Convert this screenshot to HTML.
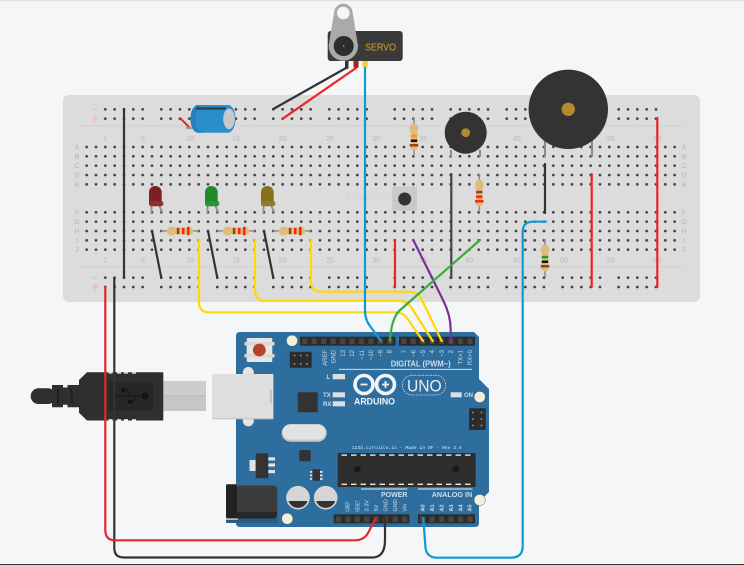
<!DOCTYPE html>
<html><head><meta charset="utf-8"><style>
html,body{margin:0;padding:0;background:#f4f6f8;width:744px;height:565px;overflow:hidden}
svg{display:block;font-family:"Liberation Sans",sans-serif}
.n{font-size:7px;fill:#b5b5b5;text-anchor:middle}
.p{font-size:6px;fill:#cfdde8;text-anchor:end}
.q{font-size:5.5px;fill:#cfdde8;text-anchor:start}
.w{fill:none;stroke-width:2.2;stroke-linecap:round;stroke-linejoin:round}
</style></head><body>
<svg width="744" height="565" viewBox="0 0 744 565" xmlns="http://www.w3.org/2000/svg">
<defs>
<pattern id="d" x="82" y="142.33" width="9.333" height="9.333" patternUnits="userSpaceOnUse"><circle cx="4.667" cy="4.667" r="1.35" fill="#3c3c3c"/></pattern>
<pattern id="r" x="100.63" y="104.67" width="9.333" height="9.333" patternUnits="userSpaceOnUse"><circle cx="4.667" cy="4.667" r="1.35" fill="#3c3c3c"/></pattern>
<pattern id="r2" x="390" y="104.67" width="9.333" height="9.333" patternUnits="userSpaceOnUse"><circle cx="4.667" cy="4.667" r="1.35" fill="#3c3c3c"/></pattern>
<pattern id="rb" x="100.63" y="273" width="9.333" height="9.333" patternUnits="userSpaceOnUse"><circle cx="4.667" cy="4.667" r="1.35" fill="#3c3c3c"/></pattern>
<pattern id="rb2" x="390" y="273" width="9.333" height="9.333" patternUnits="userSpaceOnUse"><circle cx="4.667" cy="4.667" r="1.35" fill="#3c3c3c"/></pattern>
<pattern id="h" x="300" y="336" width="9.47" height="10" patternUnits="userSpaceOnUse"><rect width="9.47" height="10" fill="#2c2c2c"/><rect x="2.2" y="2.5" width="5" height="5.5" fill="#474747"/></pattern>
<pattern id="h2" x="399" y="336" width="9.47" height="10" patternUnits="userSpaceOnUse"><rect width="9.47" height="10" fill="#2c2c2c"/><rect x="2.2" y="2.5" width="5" height="5.5" fill="#474747"/></pattern>
<pattern id="h3" x="333.7" y="514" width="9.47" height="10" patternUnits="userSpaceOnUse"><rect width="9.47" height="10" fill="#2c2c2c"/><rect x="2.2" y="2.5" width="5" height="5.5" fill="#474747"/></pattern>
<pattern id="h4" x="418" y="514" width="9.47" height="10" patternUnits="userSpaceOnUse"><rect width="9.47" height="10" fill="#2c2c2c"/><rect x="2.2" y="2.5" width="5" height="5.5" fill="#474747"/></pattern>
<pattern id="ic" x="340" y="453" width="9.5" height="34" patternUnits="userSpaceOnUse"><rect x="1.5" y="1.4" width="5.5" height="1.4" fill="#e8e8e8"/><rect x="1.5" y="30.6" width="5.5" height="1.4" fill="#e8e8e8"/></pattern>
<g id="res">
<line x1="-19" y1="0" x2="19" y2="0" stroke="#8e8e8e" stroke-width="1.6"/>
<path d="M-13.5,0 C-13,-3.5 -10,-4.6 -7,-4.2 L-5,-3.2 L5,-3.2 L8,-4.2 C11,-4.6 13,-2.5 13.5,0 C13,2.5 11,4.6 8,4.2 L5,3.2 L-5,3.2 L-7,4.2 C-10,4.6 -13,3.5 -13.5,0Z" fill="#e0bb7c"/>
</g>
</defs>
<rect x="0" y="0" width="744" height="1.3" fill="#dfe1e3"/>
<!-- breadboard -->
<rect x="63" y="95" width="637" height="207" rx="6" fill="#dcdcdc"/>
<line x1="80" y1="126" x2="684" y2="126" stroke="#d0d0d0"/>
<line x1="80" y1="266.7" x2="684" y2="266.7" stroke="#d0d0d0"/>
<rect x="82" y="142.33" width="598.6" height="46.67" fill="url(#d)"/>
<rect x="82" y="207.67" width="598.6" height="46.67" fill="url(#d)"/>
<g>
<rect x="100.63" y="104.67" width="46.67" height="18.67" fill="url(#r)"/>
<rect x="156.63" y="104.67" width="46.67" height="18.67" fill="url(#r)"/>
<rect x="212.63" y="104.67" width="46.67" height="18.67" fill="url(#r)"/>
<rect x="268.63" y="104.67" width="46.67" height="18.67" fill="url(#r)"/>
<rect x="324.63" y="104.67" width="46.67" height="18.67" fill="url(#r)"/>
<rect x="390" y="104.67" width="46.67" height="18.67" fill="url(#r2)"/>
<rect x="446" y="104.67" width="46.67" height="18.67" fill="url(#r2)"/>
<rect x="502" y="104.67" width="46.67" height="18.67" fill="url(#r2)"/>
<rect x="558" y="104.67" width="46.67" height="18.67" fill="url(#r2)"/>
<rect x="614" y="104.67" width="46.67" height="18.67" fill="url(#r2)"/>
<rect x="100.63" y="273" width="46.67" height="18.67" fill="url(#rb)"/>
<rect x="156.63" y="273" width="46.67" height="18.67" fill="url(#rb)"/>
<rect x="212.63" y="273" width="46.67" height="18.67" fill="url(#rb)"/>
<rect x="268.63" y="273" width="46.67" height="18.67" fill="url(#rb)"/>
<rect x="324.63" y="273" width="46.67" height="18.67" fill="url(#rb)"/>
<rect x="390" y="273" width="46.67" height="18.67" fill="url(#rb2)"/>
<rect x="446" y="273" width="46.67" height="18.67" fill="url(#rb2)"/>
<rect x="502" y="273" width="46.67" height="18.67" fill="url(#rb2)"/>
<rect x="558" y="273" width="46.67" height="18.67" fill="url(#rb2)"/>
<rect x="614" y="273" width="46.67" height="18.67" fill="url(#rb2)"/>
</g>
<g class="n">
<text class="n" x="105.3" y="141">1</text><text class="n" x="143" y="141">5</text><text class="n" x="190" y="141">10</text><text class="n" x="236" y="141">15</text><text class="n" x="282.7" y="141">20</text><text class="n" x="330" y="141">25</text><text class="n" x="376" y="141">30</text><text class="n" x="423" y="141">35</text><text class="n" x="469" y="141">40</text><text class="n" x="517" y="141">45</text><text class="n" x="564" y="141">50</text><text class="n" x="611" y="141">55</text><text class="n" x="657" y="141">60</text>
<text class="n" x="105.3" y="262.5">1</text><text class="n" x="143" y="262.5">5</text><text class="n" x="190" y="262.5">10</text><text class="n" x="236" y="262.5">15</text><text class="n" x="282.7" y="262.5">20</text><text class="n" x="330" y="262.5">25</text><text class="n" x="376" y="262.5">30</text><text class="n" x="423" y="262.5">35</text><text class="n" x="469" y="262.5">40</text><text class="n" x="517" y="262.5">45</text><text class="n" x="564" y="262.5">50</text><text class="n" x="611" y="262.5">55</text><text class="n" x="657" y="262.5">60</text>
<text class="n" x="77" y="149.5">A</text><text class="n" x="77" y="158.8">B</text><text class="n" x="77" y="168.2">C</text><text class="n" x="77" y="177.5">D</text><text class="n" x="77" y="186.8">E</text>
<text class="n" x="77" y="214.8">F</text><text class="n" x="77" y="224.2">G</text><text class="n" x="77" y="233.5">H</text><text class="n" x="77" y="242.8">I</text><text class="n" x="77" y="252.2">J</text>
<text class="n" x="684" y="149.5">A</text><text class="n" x="684" y="158.8">B</text><text class="n" x="684" y="168.2">C</text><text class="n" x="684" y="177.5">D</text><text class="n" x="684" y="186.8">E</text>
<text class="n" x="684" y="214.8">F</text><text class="n" x="684" y="224.2">G</text><text class="n" x="684" y="233.5">H</text><text class="n" x="684" y="242.8">I</text><text class="n" x="684" y="252.2">J</text>
</g>
<path d="M92,109.3h6M92,277.7h6" stroke="#bcd3e6" stroke-width="1.4"/>
<path d="M92,118.7h6M95,115.7v6M92,287h6M95,284v6" stroke="#eeb9b9" stroke-width="1.4"/>
<text x="345" y="201" font-size="10" fill="#d4d4d4">123D.CIRCUITS</text>

<!-- arduino -->
<path d="M236,336 Q236,332 240,332 L474,332 L479,337 L479,379 L489,389 L489,492 L479,502 L479,523 Q479,527 475,527 L240,527 Q236,527 236,523Z" fill="#2e6e9e"/>
<rect x="300" y="336.7" width="95.5" height="9" fill="url(#h)"/>
<rect x="399" y="336.7" width="76" height="9" fill="url(#h2)"/>
<rect x="333.7" y="514.3" width="75.7" height="9" fill="url(#h3)"/>
<rect x="418" y="514.3" width="57" height="9" fill="url(#h4)"/>
<g fill="#f3f0d9" stroke="#1f5379" stroke-width=".4"><circle cx="292" cy="340.7" r="5.6"/><circle cx="479.7" cy="397" r="5.6"/><circle cx="479.7" cy="500" r="5.6"/><circle cx="287.3" cy="518.7" r="5.6"/></g>
<rect x="246.7" y="338" width="25.6" height="24" rx="1.5" fill="#e6e6e6"/><rect x="244.5" y="342" width="30" height="3.5" fill="#d8d8d8"/><rect x="244.5" y="354" width="30" height="3.5" fill="#d8d8d8"/>
<circle cx="259.3" cy="350" r="6.4" fill="#b5432a"/>
<rect x="289.7" y="351.7" width="22" height="16" rx="1" fill="#2c2c2c"/>
<g fill="#8a8a8a"><circle cx="294.5" cy="355.5" r="1"/><circle cx="300.7" cy="355.5" r="1"/><circle cx="307" cy="355.5" r="1"/><circle cx="294.5" cy="364" r="1"/><circle cx="300.7" cy="364" r="1"/><circle cx="307" cy="364" r="1"/></g>
<rect x="469" y="408.3" width="16.7" height="21.7" rx="1" fill="#2c2c2c"/>
<g fill="#8a8a8a"><circle cx="473" cy="412.5" r="1"/><circle cx="481.5" cy="412.5" r="1"/><circle cx="473" cy="419" r="1"/><circle cx="481.5" cy="419" r="1"/><circle cx="473" cy="425.5" r="1"/><circle cx="481.5" cy="425.5" r="1"/></g>
<g>
<text class="p" transform="translate(326.9,350) rotate(-90)">AREF</text><text class="p" transform="translate(335.5,350) rotate(-90)">GND</text><text class="p" transform="translate(344.9,350) rotate(-90)">13</text><text class="p" transform="translate(354.2,350) rotate(-90)">12</text><text class="p" transform="translate(363.9,350) rotate(-90)">~11</text><text class="p" transform="translate(373.2,350) rotate(-90)">~10</text><text class="p" transform="translate(382.5,350) rotate(-90)">~9</text><text class="p" transform="translate(391.5,350) rotate(-90)">8</text>
<text class="p" transform="translate(406.2,350) rotate(-90)">7</text><text class="p" transform="translate(415.5,350) rotate(-90)">~6</text><text class="p" transform="translate(424.9,350) rotate(-90)">~5</text><text class="p" transform="translate(434.2,350) rotate(-90)">4</text><text class="p" transform="translate(443.9,350) rotate(-90)">~3</text><text class="p" transform="translate(453.2,350) rotate(-90)">2</text><text class="p" transform="translate(462.5,350) rotate(-90)">TX+1</text><text class="p" transform="translate(472.2,350) rotate(-90)">RX+0</text>
<text class="q" transform="translate(349.6,511.5) rotate(-90)" textLength="10" lengthAdjust="spacingAndGlyphs">IOREF</text><text class="q" transform="translate(359.5,511.5) rotate(-90)" textLength="11" lengthAdjust="spacingAndGlyphs">RESET</text><text class="q" transform="translate(368.7,511.5) rotate(-90)">3.3V</text><text class="q" transform="translate(378,511.5) rotate(-90)">5V</text><text class="q" transform="translate(387.7,511.5) rotate(-90)">GND</text><text class="q" transform="translate(397,511.5) rotate(-90)">GND</text><text class="q" transform="translate(406.3,511.5) rotate(-90)">Vin</text>
<text class="q" transform="translate(424.7,511.5) rotate(-90)" font-weight="bold">A0</text><text class="q" transform="translate(434,511.5) rotate(-90)" font-weight="bold">A1</text><text class="q" transform="translate(443.3,511.5) rotate(-90)" font-weight="bold">A2</text><text class="q" transform="translate(453,511.5) rotate(-90)" font-weight="bold">A3</text><text class="q" transform="translate(462.3,511.5) rotate(-90)" font-weight="bold">A4</text><text class="q" transform="translate(471.7,511.5) rotate(-90)" font-weight="bold">A5</text>
</g>
<text x="390.7" y="366.5" font-size="8" font-weight="bold" fill="#cfdde8" textLength="60" lengthAdjust="spacingAndGlyphs">DIGITAL (PWM~)</text>
<line x1="339" y1="369.3" x2="472" y2="369.3" stroke="#e4edf3" stroke-width=".9"/>
<g fill="none" stroke="#f0f4f7" stroke-width="3.6"><circle cx="364" cy="384.5" r="9"/><circle cx="385.5" cy="384.5" r="9"/></g>
<path d="M360.5,384.5h7M382,384.5h7M385.5,381v7" stroke="#f0f4f7" stroke-width="1.8"/>
<text x="354" y="404.5" font-size="9.5" font-weight="bold" fill="#f0f4f7" textLength="41" lengthAdjust="spacingAndGlyphs">ARDUINO</text>
<rect x="402.3" y="375.3" width="43.4" height="19.7" rx="9.8" fill="none" stroke="#cfdde8" stroke-width=".8" stroke-dasharray="1.6 1"/>
<text x="407" y="391.7" font-size="17" fill="#e8eff4" textLength="34.7" lengthAdjust="spacingAndGlyphs">UNO</text>
<g font-size="6" font-weight="bold" fill="#cfdde8"><text x="326.5" y="379">L</text><text x="323" y="397.2">TX</text><text x="323" y="406.2">RX</text><text x="464" y="397.2">ON</text></g>
<g fill="#d9dfe3"><rect x="332.7" y="374" width="12.3" height="5.3"/><rect x="332.7" y="392.3" width="12.3" height="5"/><rect x="332.7" y="401.3" width="12.3" height="5"/><rect x="450.7" y="392.3" width="11" height="5"/></g>
<rect x="297.7" y="392.3" width="20" height="20" rx="1" fill="#333"/>
<rect x="281.7" y="424.3" width="45" height="17.4" rx="8.7" fill="#c9c9c9"/><rect x="282.7" y="424.3" width="43" height="15.2" rx="7.6" fill="#e2e2e2"/>
<rect x="299.3" y="450" width="11.4" height="11.3" rx="1" fill="#333"/>
<text x="406.7" y="449" font-size="4.8" font-family="Liberation Mono,monospace" fill="#dde8f0" text-anchor="middle" textLength="110" lengthAdjust="spacingAndGlyphs">123d.circuits.io - Made in SF - Rev 3.4</text>
<rect x="337.7" y="453" width="138" height="34" rx="1" fill="#2e2e2e"/><rect x="340" y="453" width="134" height="34" fill="url(#ic)"/>
<circle cx="357.3" cy="469.3" r="3.5" fill="#1a1a1a"/><circle cx="455.7" cy="469.3" r="3.5" fill="#1a1a1a"/>
<g fill="#dfe3e6"><rect x="249.5" y="460" width="6.2" height="11"/><rect x="268" y="457.3" width="7" height="3.2"/><rect x="268" y="463.4" width="7" height="3.2"/><rect x="268" y="470" width="7" height="3.2"/></g>
<rect x="255.7" y="453.3" width="12.6" height="25" rx="1" fill="#333"/>
<g fill="#dfe3e6"><rect x="310" y="471" width="2.6" height="1.8"/><rect x="310" y="474.5" width="2.6" height="1.8"/><rect x="310" y="478" width="2.6" height="1.8"/><rect x="320" y="471" width="2.6" height="1.8"/><rect x="320" y="474.5" width="2.6" height="1.8"/><rect x="320" y="478" width="2.6" height="1.8"/></g>
<rect x="312.3" y="469.3" width="7.7" height="11.4" rx=".6" fill="#333"/>
<circle cx="298" cy="497.7" r="11.8" fill="#d6d6d6"/><path d="M288.5,501 A10,10 0 0 0 307.5,501Z" fill="#333"/>
<circle cx="325.7" cy="497.7" r="11.8" fill="#d6d6d6"/><path d="M316.2,501 A10,10 0 0 0 335.2,501Z" fill="#333"/>
<line x1="361" y1="489" x2="407.3" y2="489" stroke="#e4edf3" stroke-width=".9"/>
<line x1="418" y1="489" x2="472.3" y2="489" stroke="#e4edf3" stroke-width=".9"/>
<text x="381" y="497" font-size="7.5" font-weight="bold" fill="#cfdde8" textLength="26.5" lengthAdjust="spacingAndGlyphs">POWER</text>
<text x="431.7" y="497" font-size="7.5" font-weight="bold" fill="#cfdde8" textLength="40.6" lengthAdjust="spacingAndGlyphs">ANALOG IN</text>

<!-- jack -->
<rect x="226" y="518" width="51.5" height="5" rx="1" fill="#275c84"/>
<rect x="226" y="516" width="12" height="4" fill="#bcc0c3"/>
<rect x="236" y="485.5" width="41.3" height="33" rx="4" fill="#3a3c3e"/>
<path d="M236,512 h41 v3 q0,3.5 -3,3.5 h-38Z" fill="#26282a"/>
<rect x="226" y="484.3" width="11" height="34" rx="1.5" fill="#222"/>
<!-- usb -->
<circle cx="248.3" cy="372.5" r="5.5" fill="#e4e4e4"/><circle cx="248.3" cy="420.8" r="5.5" fill="#e4e4e4"/>
<rect x="212.3" y="374" width="61" height="45.3" fill="#c8c8c8"/><rect x="212.3" y="374" width="61" height="44" fill="#dedede"/>
<rect x="270" y="389.3" width="2" height="14" fill="#c2c2c2"/>
<rect x="163.3" y="381" width="42.7" height="30" fill="#c6c6c6"/><rect x="163.3" y="381" width="42.7" height="14" fill="#cdcdcd"/>
<line x1="163.3" y1="396" x2="206" y2="396" stroke="#b4b4b4" stroke-width=".7"/>
<rect x="30.7" y="388.3" width="25" height="15.7" rx="7.8" fill="#2f2f2f"/>
<path d="M52,385 h11 v2.5 h4.5 v-2.5 h11.5 v22.3 h-11.5 v-2.5 h-4.5 v2.5 h-11Z" fill="#2f2f2f"/>
<path d="M58,389 v14 M71,389 l1,14" stroke="#1f1f1f" stroke-width="2"/>
<path d="M79,380 L87,372.3 H163.3 V420.5 H87 L79,412.7Z" fill="#2f2f2f"/>
<g fill="#f4f6f8"><rect x="108.5" y="372.3" width="4" height="1.3"/><rect x="117" y="372.3" width="4" height="1.3"/><rect x="124" y="372.3" width="4" height="1.3"/><rect x="132" y="372.3" width="4" height="1.3"/><rect x="108.5" y="419.2" width="4" height="1.3"/><rect x="117" y="419.2" width="4" height="1.3"/><rect x="124" y="419.2" width="4" height="1.3"/><rect x="132" y="419.2" width="4" height="1.3"/></g>
<rect x="109" y="382" width="44" height="28.5" fill="#272727"/>
<g stroke="#141414" stroke-width="1" fill="#141414"><path d="M115,396 H145 M123,390 L127,390 L131,396 M130,401.7 L133,401.7 L136,396" fill="none"/><circle cx="145" cy="396" r="3"/><circle cx="123.3" cy="390" r="1.8"/><circle cx="130" cy="401.7" r="1.8"/></g>

<!-- LEDs -->
<g stroke="#8a8a8a" stroke-width="1.7" fill="none"><path d="M151.5,205V213M159,205L162.5,213M207.5,205V213M215,205L218.5,213M263.5,205V213M271,205L274.5,213"/></g>
<path d="M149,203 V192.3 a6.35,6.35 0 0 1 12.7,0 V203Z" fill="#7f1f1f"/><rect x="149" y="201" width="14.3" height="5.2" rx="2.2" fill="#8e2d2d"/>
<path d="M205,203 V192.3 a6.35,6.35 0 0 1 12.7,0 V203Z" fill="#1e8a28"/><rect x="205" y="201" width="14.3" height="5.2" rx="2.2" fill="#2c9334"/>
<path d="M261,203 V192.3 a6.35,6.35 0 0 1 12.7,0 V203Z" fill="#85701b"/><rect x="261" y="201" width="14.3" height="5.2" rx="2.2" fill="#907b28"/>
<!-- resistors -->
<g transform="translate(180,231)"><use href="#res"/><rect x="-3.2" y="-3.2" width="2.5" height="6.4" fill="#8b4a17"/><rect x="2" y="-3.2" width="2.5" height="6.4" fill="#f21"/><rect x="7" y="-4.2" width="2.5" height="8.4" fill="#f21"/></g>
<g transform="translate(236,231)"><use href="#res"/><rect x="-3.2" y="-3.2" width="2.5" height="6.4" fill="#8b4a17"/><rect x="2" y="-3.2" width="2.5" height="6.4" fill="#f21"/><rect x="7" y="-4.2" width="2.5" height="8.4" fill="#f21"/></g>
<g transform="translate(292,231)"><use href="#res"/><rect x="-3.2" y="-3.2" width="2.5" height="6.4" fill="#8b4a17"/><rect x="2" y="-3.2" width="2.5" height="6.4" fill="#f21"/><rect x="7" y="-4.2" width="2.5" height="8.4" fill="#f21"/></g>
<g transform="translate(414,137) rotate(90)"><use href="#res"/><rect x="-2.2" y="-3.2" width="2.5" height="6.4" fill="#ff9a00"/><rect x="2.5" y="-3.2" width="2.5" height="6.4" fill="#111"/><rect x="7" y="-4.2" width="2.5" height="8.4" fill="#8b4a17"/></g>
<g transform="translate(479.3,193) rotate(90)"><use href="#res"/><rect x="-2.2" y="-3.2" width="2.5" height="6.4" fill="#8b4a17"/><rect x="2.5" y="-3.2" width="2.5" height="6.4" fill="#f21"/><rect x="7" y="-4.2" width="2.5" height="8.4" fill="#f21"/></g>
<g transform="translate(545,258) rotate(90)"><use href="#res"/><rect x="-2.2" y="-3.2" width="2.5" height="6.4" fill="#1f9a1f"/><rect x="2.5" y="-3.2" width="2.5" height="6.4" fill="#111"/><rect x="7" y="-4.2" width="2.5" height="8.4" fill="#8b4a17"/></g>
<!-- button -->
<rect x="392.3" y="186.7" width="24.7" height="24" rx="1.5" fill="#c9c9c9"/>
<circle cx="404.7" cy="199" r="6.5" fill="#333"/>
<!-- buzzers -->
<path d="M451,150V157M480,150V157M545,140V157M592,140V157" stroke="#8a8a8a" stroke-width="2"/>
<circle cx="465.7" cy="132.7" r="21" fill="#333"/><circle cx="465.7" cy="132.7" r="4.4" fill="#b5892c"/>
<circle cx="568.3" cy="109.3" r="39.7" fill="#333"/><circle cx="568.3" cy="109.3" r="6.7" fill="#b5892c"/>
<!-- capacitor -->
<path d="M190,128L180,118" stroke="#e8262a" stroke-width="2" />
<path d="M186,128h7" stroke="#9a9a9a" stroke-width="2"/>
<path d="M198,105 H228 a7.5,13.8 0 0 1 0,27.7 H198 a7.5,13.8 0 0 1 0,-27.7Z" fill="#2a8dcc"/>
<path d="M198,105 a7.5,13.8 0 0 0 0,27.7 h5 a7.5,13.8 0 0 1 0,-27.7Z" fill="#2580bb"/>
<ellipse cx="229" cy="118.8" rx="5.8" ry="10.3" fill="#c6c9cb"/>
<path d="M196,108.5 H226" stroke="#2f3f4a" stroke-width="2.2"/>
<!-- servo -->
<rect x="345" y="60" width="3.5" height="9" rx="1.5" fill="#333"/><rect x="353.5" y="60" width="5" height="8" rx="1.5" fill="#a82020"/><rect x="362.7" y="60" width="5" height="8" rx="2" fill="#f0d030"/>
<rect x="327.7" y="31" width="75" height="30" rx="3" fill="#3a3a3a"/>
<path d="M334,13 a9.3,9.3 0 0 1 18.7,0 L358,46 a14.7,14.7 0 1 1 -29.4,0Z" fill="#aaa"/>
<circle cx="343.3" cy="13" r="6.3" fill="#f4f6f8"/>
<circle cx="343.7" cy="46" r="10" fill="#2c2c2c"/><circle cx="343.7" cy="46" r=".9" fill="#999"/>
<text x="365" y="50.5" font-size="10.5" fill="#d9a02a" textLength="31" lengthAdjust="spacingAndGlyphs">SERVO</text>

<!-- wires -->
<g class="w" stroke="#333">
<path d="M124,109V277.7"/>
<path d="M152,231L161.3,277.7M208,231L217.3,277.7M264,231L273.3,277.7"/>
<path d="M346,68L273.3,109"/>
<path d="M451.3,174V278" stroke="#444"/>
<path d="M545,164V213"/>
<path d="M114.3,277.7V548 Q114.3,557.5 124,557.5H372 Q385,557.5 385,540V518"/>
</g>
<g class="w" stroke="#e8262a">
<path d="M356,68L282.7,118.7"/>
<path d="M395,240V287M591.7,174V287M657.3,118V287"/>
<path d="M105.3,286.7V530 Q105.3,540.3 115,540.3H355 Q364,540.3 368,533L376,518"/>
</g>
<g class="w" stroke="#ffd900">
<path d="M199,240V302 Q199,312.3 209,312.3H395 Q403,312.3 407,318L423,341"/>
<path d="M255,240V290 Q255,300.7 265,300.7H398 Q406,300.7 411,307L432.7,341"/>
<path d="M311,240V281 Q311,291.7 321,291.7H408 Q417,291.7 421,298L441.7,341"/>
</g>
<path class="w" stroke="#7a2f96" d="M413.3,240L443,300 Q450.7,315 450.7,330V341"/>
<path class="w" stroke="#3aad3a" d="M480,240L399,311 Q391,320 390,341"/>
<g class="w" stroke="#0a9bd6">
<path d="M365,68V310 Q365,320 370,326L381,341"/>
<path d="M546,221.7H533 Q522.7,221.7 522.7,232V546 Q522.7,557.7 511,557.7H437 Q427,557.7 425.5,548L423.3,518"/>
</g>
<rect x="0" y="564" width="744" height="1" fill="#333"/>
</svg>
</body></html>
